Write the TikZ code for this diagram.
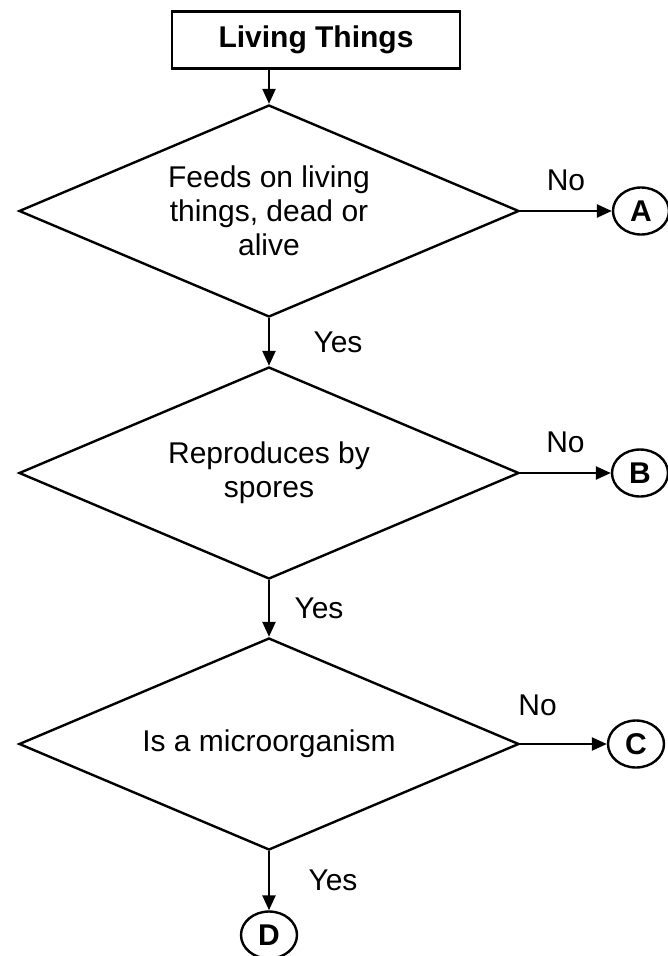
\documentclass[tikz,border=0pt]{standalone}
\usepackage{fontspec}
\setmainfont{Liberation Sans}
\usetikzlibrary{positioning,arrows.meta,shapes.geometric,calc}

\begin{document}
\begin{tikzpicture}[
            x=1pt, y=-1pt,
            line width=2.4pt,
            font=\fontsize{30}{34}\selectfont,
            % box at the top
            topbox/.style={
                draw=black,
                minimum width=288pt,
                minimum height=57pt,
                inner sep=0pt,
                font=\fontsize{30}{34}\selectfont\bfseries
            },
            % decision diamonds
            decision/.style={
                draw=black,
                shape=diamond,
                aspect=2.36,
                minimum width=500pt,
                minimum height=212pt,
                inner sep=0pt,
                align=center
            },
            % lettered end circles
            endpt/.style={
                draw=black,
                ellipse,
                minimum width=56pt,
                minimum height=47pt,
                inner sep=0pt,
                font=\fontsize{30}{34}\selectfont\bfseries
            },
            arr/.style={-{Triangle[length=15pt,width=13pt]}}
        ]
            \useasboundingbox (0,0) rectangle (668,956);

            % START BOX
            \node[topbox] (living) at (316,40) {Living Things};

            % DECISIONS
            \node[decision] (feeds) at (269,211) {Feeds on living\\things, dead or\\alive};
            \node[decision] (spores) at (269,473) {Reproduces by\\spores};
            \node[decision] (micro) at (269,744) {Is a microorganism};

            % END POINTS
            \node[endpt] (A) at (641,211) {A};
            \node[endpt] (B) at (640,473) {B};
            \node[endpt] (C) at (636,744) {C};
            \node[endpt] (D) at (269,935) {D};

            % YES BRANCHES (downwards)
            \draw[arr] (feeds.north |- living.south) -- (feeds.north);
            \draw[arr] (feeds.south) -- node[right=40pt] {Yes} (spores.north);
            \draw[arr] (spores.south) -- node[right=21pt] {Yes} (micro.north);
            \draw[arr] (micro.south) -- node[right=35pt] {Yes} (D.north);

            % NO BRANCHES (to the right)
            \draw[arr] (feeds.east) -- node[above=16pt] {No} (A.west);
            \draw[arr] (spores.east) -- node[above=16pt] {No} (B.west);
            \draw[arr] (micro.east) -- node[above=24pt, pos=.2] {No} (C.west);

        \end{tikzpicture}
\end{document}
